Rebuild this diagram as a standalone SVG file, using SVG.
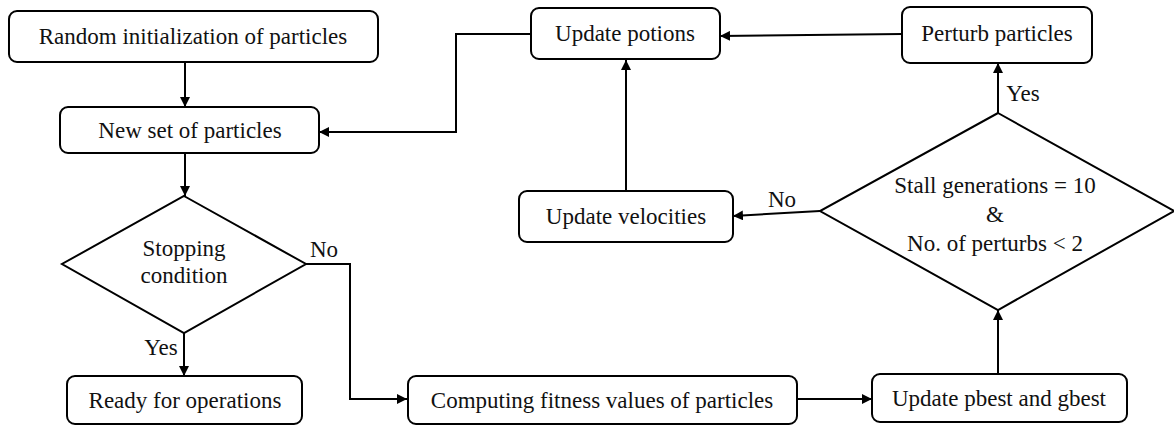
<svg xmlns="http://www.w3.org/2000/svg" width="1174" height="428" viewBox="0 0 1174 428">
  <defs>
    <marker id="arrow" viewBox="0 0 10 10" refX="10" refY="5" markerWidth="10" markerHeight="10" markerUnits="userSpaceOnUse" orient="auto">
      <path d="M0,0 L10,5 L0,10 Z" fill="#000"/>
    </marker>
  </defs>
  <style>
    .box { fill: #fff; stroke: #000; stroke-width: 2; }
    .dia { fill: #fff; stroke: #000; stroke-width: 2; }
    .lbl { font-family: 'Liberation Serif', 'Times New Roman', serif; font-size: 23px; fill: #111; text-anchor: middle; }
    .edge { fill: none; stroke: #000; stroke-width: 2; }
  </style>
  <rect width="1174" height="428" fill="#fff"/>

  <!-- connectors -->
  <g id="connectors">
    <path class="edge" d="M185,62 L185,107" marker-end="url(#arrow)"/>
    <path class="edge" d="M185,153 L185,196" marker-end="url(#arrow)"/>
    <path class="edge" d="M306,264 L350,264 L350,399 L407,399" marker-end="url(#arrow)"/>
    <path class="edge" d="M184,333 L184,376" marker-end="url(#arrow)"/>
    <path class="edge" d="M797,399 L872,399" marker-end="url(#arrow)"/>
    <path class="edge" d="M998,374 L998,310" marker-end="url(#arrow)"/>
    <path class="edge" d="M998,113 L998,63" marker-end="url(#arrow)"/>
    <path class="edge" d="M902,34 L720,36" marker-end="url(#arrow)"/>
    <path class="edge" d="M531,34 L456,34 L456,132 L319,132" marker-end="url(#arrow)"/>
    <path class="edge" d="M626,191 L626,60" marker-end="url(#arrow)"/>
    <path class="edge" d="M820,211 L733,216" marker-end="url(#arrow)"/>
    <text class="lbl" x="324" y="257">No</text>
    <text class="lbl" x="161" y="355">Yes</text>
    <text class="lbl" x="1023" y="101">Yes</text>
    <text class="lbl" x="782" y="207">No</text>
  </g>

  <g id="random-init">
    <rect class="box" x="9" y="11" width="369" height="51" rx="8"/>
    <text class="lbl" x="193" y="44">Random initialization of particles</text>
  </g>
  <g id="new-set">
    <rect class="box" x="60" y="107" width="259" height="46" rx="8"/>
    <text class="lbl" x="190" y="138">New set of particles</text>
  </g>
  <g id="stopping">
    <polygon class="dia" points="184,196 306,264 184,333 62,264"/>
    <text class="lbl" x="184" y="256">Stopping</text>
    <text class="lbl" x="184" y="283">condition</text>
  </g>
  <g id="ready">
    <rect class="box" x="67" y="376" width="235" height="48" rx="8"/>
    <text class="lbl" x="185" y="408">Ready for operations</text>
  </g>
  <g id="fitness">
    <rect class="box" x="408" y="376" width="389" height="48" rx="8"/>
    <text class="lbl" x="602" y="408">Computing fitness values of particles</text>
  </g>
  <g id="pbest-gbest">
    <rect class="box" x="872" y="374" width="255" height="48" rx="8"/>
    <text class="lbl" x="999" y="406">Update pbest and gbest</text>
  </g>
  <g id="stall">
    <polygon class="dia" points="998,113 1174,211 998,310 820,211"/>
    <text class="lbl" x="995" y="193">Stall generations = 10</text>
    <text class="lbl" x="995" y="222">&amp;</text>
    <text class="lbl" x="995" y="251">No. of perturbs &lt; 2</text>
  </g>
  <g id="perturb">
    <rect class="box" x="902" y="7" width="190" height="56" rx="8"/>
    <text class="lbl" x="997" y="41">Perturb particles</text>
  </g>
  <g id="update-positions">
    <rect class="box" x="531" y="8" width="189" height="51" rx="8"/>
    <text class="lbl" x="625" y="41">Update potions</text>
  </g>
  <g id="update-velocities">
    <rect class="box" x="519" y="191" width="214" height="51" rx="8"/>
    <text class="lbl" x="626" y="224">Update velocities</text>
  </g>
</svg>
